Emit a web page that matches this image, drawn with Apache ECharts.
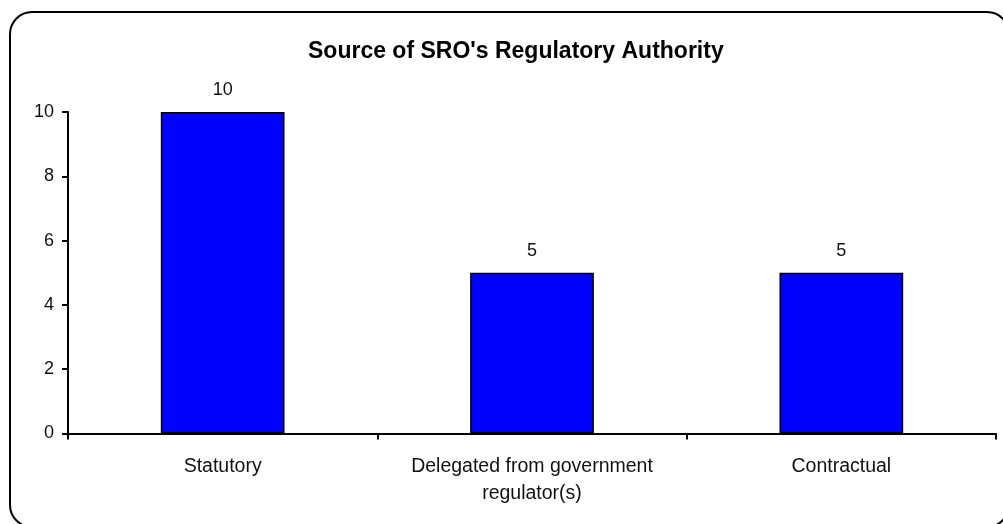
<!DOCTYPE html>
<html>
<head>
<meta charset="utf-8">
<script src="https://cdn.jsdelivr.net/npm/echarts@6/dist/echarts.min.js"></script>
<style>
  html, body { margin: 0; padding: 0; background: #fff; }
  #chart { width: 1003px; height: 524px; }
</style>
</head>
<body>
<div id="chart"></div>
<script>
// Source of regulatory authority, count of SROs per category
const categories = ['Statutory', 'Delegated from government\nregulator(s)', 'Contractual'];
const counts = [10, 5, 5];
const yTicks = { min: 0, max: 10, interval: 2 };

const FONT = '"Liberation Sans", Arial, sans-serif';

const chart = echarts.init(document.getElementById('chart'), null, { renderer: 'canvas' });

chart.setOption({
  animation: false,
  backgroundColor: '#ffffff',
  title: {
    text: "Source of SRO's Regulatory Authority",
    left: 303,
    top: 35,
    textStyle: { fontFamily: FONT, fontSize: 23, fontWeight: 'bold', color: '#000' }
  },
  // rounded frame around the whole chart
  graphic: [{
    type: 'rect',
    shape: { x: 10, y: 12, width: 999, height: 515, r: 22 },
    style: { fill: 'none', stroke: '#000', lineWidth: 2 },
    silent: true,
    z: 0
  }],
  grid: { left: 68, right: 7, top: 112, bottom: 90.5, containLabel: false },
  xAxis: {
    type: 'category',
    data: categories,
    boundaryGap: true,
    axisLine: { show: true, lineStyle: { color: '#000', width: 2 } },
    axisTick: { show: true, length: 6, lineStyle: { color: '#000', width: 2 } },
    axisLabel: {
      fontFamily: FONT, fontSize: 19.5, color: '#111', margin: 20, lineHeight: 27,
      interval: 0
    },
    splitLine: { show: false }
  },
  yAxis: {
    type: 'value',
    min: yTicks.min,
    max: yTicks.max,
    interval: yTicks.interval,
    axisLine: { show: true, lineStyle: { color: '#000', width: 2 } },
    axisTick: { show: true, length: 6, lineStyle: { color: '#000', width: 2 } },
    axisLabel: { fontFamily: FONT, fontSize: 18, color: '#111', margin: 14 },
    splitLine: { show: false }
  },
  series: [{
    type: 'bar',
    data: counts,
    barWidth: '40%',
    itemStyle: { color: '#0000ff', borderColor: '#000', borderWidth: 1.5 },
    label: {
      show: true, position: 'top', distance: 13,
      fontFamily: FONT, fontSize: 18, color: '#111'
    }
  }]
});
</script>
</body>
</html>
